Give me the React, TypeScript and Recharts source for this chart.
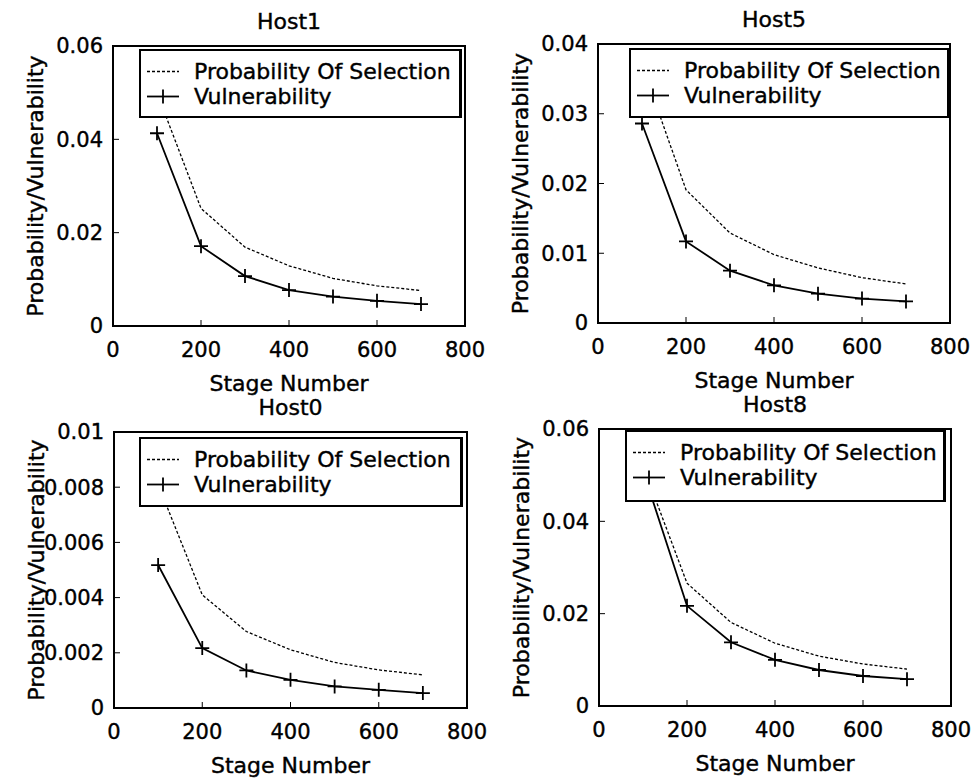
import { LineChart, Line, XAxis, YAxis, Legend, Label, ReferenceArea } from 'recharts'

// Stage numbers shared by every panel
const stages = [100, 200, 300, 400, 500, 600, 700]
const xTicks = [0, 200, 400, 600, 800]

// Values
const host1Selection = [0.05, 0.0252, 0.0169, 0.0129, 0.0102, 0.0086, 0.0076]
const host1Vulnerability = [0.0413, 0.0171, 0.0107, 0.0077, 0.0063, 0.0054, 0.0047]
const host5Selection = [0.037, 0.0191, 0.0129, 0.0098, 0.0079, 0.0065, 0.0056]
const host5Vulnerability = [0.0286, 0.0117, 0.0075, 0.0054, 0.0042, 0.0035, 0.0031]
const host0Selection = [0.0081, 0.0041, 0.00277, 0.00211, 0.00165, 0.00138, 0.0012]
const host0Vulnerability = [0.00518, 0.00217, 0.00136, 0.00102, 0.00078, 0.00066, 0.00054]
const host8Selection = [0.052, 0.0266, 0.0181, 0.0136, 0.0108, 0.0091, 0.008]
const host8Vulnerability = [0.051, 0.0217, 0.0138, 0.01, 0.0078, 0.0065, 0.0058]

const ticks06 = [0, 0.02, 0.04, 0.06]
const ticks04 = [0, 0.01, 0.02, 0.03, 0.04]
const ticks01 = [0, 0.002, 0.004, 0.006, 0.008, 0.01]

const FONT = '"DejaVu Sans", sans-serif'
const Y_W = 110
const TOP = 45
const RIGHT = 32
const X_H = 70

interface Box { x: number; y: number; w: number; h: number }

interface PanelProps {
  title: string
  box: Box
  legend: Box
  yTicks: number[]
  selection: number[]
  vulnerability: number[]
}

function fmtTick(v: number): string {
  if (v === 0) return '0'
  return String(+v.toFixed(4))
}

function PlusDot(props: any) {
  const { cx, cy, index } = props
  if (cx == null || cy == null) return null
  return (
    <path
      key={`p-${index}`}
      d={`M${cx - 7},${cy}H${cx + 7}M${cx},${cy - 7}V${cy + 7}`}
      stroke="#000"
      strokeWidth={1.8}
      fill="none"
    />
  )
}

function LegendBox({ w, h }: { w: number; h: number }) {
  const txt: any = {
    position: 'absolute',
    left: 53,
    transform: 'translateY(-50%)',
    whiteSpace: 'nowrap',
    lineHeight: 1,
    WebkitTextStroke: '0.4px #000'
  }
  return (
    <div
      style={{
        width: w,
        height: h,
        boxSizing: 'border-box',
        border: '2px solid #000',
        borderRightWidth: 3,
        background: '#fff',
        position: 'relative',
        fontFamily: FONT,
        fontSize: 22,
        color: '#000'
      }}
    >
      <svg width={50} height={h} style={{ position: 'absolute', left: 0, top: -2 }}>
        <line x1={6} x2={38} y1={22.5} y2={22.5} stroke="#000" strokeWidth={1.3} strokeDasharray="3 2" />
        <line x1={6} x2={38} y1={47.5} y2={47.5} stroke="#000" strokeWidth={1.8} />
        <line x1={22} x2={22} y1={40.5} y2={54.5} stroke="#000" strokeWidth={1.8} />
      </svg>
      <div style={{ ...txt, top: 20.5 }}>Probability Of Selection</div>
      <div style={{ ...txt, top: 45.5 }}>Vulnerability</div>
    </div>
  )
}

function Panel({ title, box, legend, yTicks, selection, vulnerability }: PanelProps) {
  const data = stages.map((s, i) => ({ stage: s, selection: selection[i], vulnerability: vulnerability[i] }))
  const yMax = yTicks[yTicks.length - 1]
  const left = box.x - Y_W
  const top = box.y - TOP
  const tickStyle = { fontSize: 21, fill: '#000', fontFamily: FONT, stroke: '#000', strokeWidth: 0.4 }

  return (
    <div style={{ position: 'absolute', left, top }}>
      <LineChart
        width={Y_W + box.w + RIGHT}
        height={TOP + box.h + X_H}
        data={data}
        margin={{ top: TOP, right: RIGHT, bottom: 0, left: 0 }}
        style={{ fontFamily: FONT }}
      >
        <XAxis
          dataKey="stage"
          type="number"
          domain={[0, 800]}
          ticks={xTicks}
          allowDataOverflow
          height={X_H}
          tickSize={-6}
          tickMargin={22}
          tick={tickStyle}
          axisLine={{ stroke: '#000', strokeWidth: 2 }}
          tickLine={{ stroke: '#000' }}
        >
          <Label
            content={({ viewBox }: any) => (
              <g fontSize={22} fontFamily={FONT} fill="#000" stroke="#000" strokeWidth={0.4}>
                <text
                  x={viewBox.x + viewBox.width / 2}
                  y={viewBox.y + 57}
                  textAnchor="middle"
                  dominantBaseline="central"
                >
                  Stage Number
                </text>
                <text
                  x={viewBox.x + viewBox.width / 2}
                  y={viewBox.y - box.h - 25}
                  textAnchor="middle"
                  dominantBaseline="central"
                >
                  {title}
                </text>
              </g>
            )}
          />
        </XAxis>
        <YAxis
          type="number"
          domain={[0, yMax]}
          ticks={yTicks}
          allowDataOverflow
          width={Y_W}
          tickSize={-6}
          tickMargin={16}
          tick={tickStyle}
          tickFormatter={fmtTick}
          axisLine={{ stroke: '#000', strokeWidth: 2 }}
          tickLine={{ stroke: '#000' }}
        >
          <Label
            content={({ viewBox }: any) => {
              const cx = viewBox.x + 32
              const cy = viewBox.y + viewBox.height / 2
              return (
                <text
                  x={cx}
                  y={cy}
                  transform={`rotate(-90, ${cx}, ${cy})`}
                  textAnchor="middle"
                  dominantBaseline="central"
                  fontSize={22}
                  fontFamily={FONT}
                  fill="#000"
                  stroke="#000"
                  strokeWidth={0.4}
                >
                  Probability/Vulnerability
                </text>
              )
            }}
          />
        </YAxis>
        {/* plot frame */}
        <ReferenceArea x1={0} x2={800} y1={0} y2={yMax} fill="none" stroke="#000" strokeWidth={2} ifOverflow="visible" />
        <Line
          dataKey="selection"
          name="Probability Of Selection"
          stroke="#000"
          strokeWidth={1.3}
          strokeDasharray="3 2"
          dot={false}
          isAnimationActive={false}
        />
        <Line
          dataKey="vulnerability"
          name="Vulnerability"
          stroke="#000"
          strokeWidth={1.8}
          dot={PlusDot}
          isAnimationActive={false}
        />
        <Legend
          layout="horizontal"
          verticalAlign="middle"
          align="center"
          wrapperStyle={{
            left: legend.x - left,
            top: legend.y - top,
            width: legend.w,
            height: legend.h,
            zIndex: 5
          }}
          content={() => <LegendBox w={legend.w} h={legend.h} />}
        />
      </LineChart>
    </div>
  )
}

export default function App() {
  return (
    <div style={{ position: 'absolute', left: 0, top: 0, width: 975, height: 782, background: '#fff', overflow: 'hidden' }}>
      <Panel
        title="Host1"
        box={{ x: 113, y: 46, w: 352, h: 280 }}
        legend={{ x: 139, y: 49, w: 323, h: 69 }}
        yTicks={ticks06}
        selection={host1Selection}
        vulnerability={host1Vulnerability}
      />
      <Panel
        title="Host5"
        box={{ x: 598, y: 44, w: 352, h: 279 }}
        legend={{ x: 629, y: 48, w: 321, h: 70 }}
        yTicks={ticks04}
        selection={host5Selection}
        vulnerability={host5Vulnerability}
      />
      <Panel
        title="Host0"
        box={{ x: 114, y: 432, w: 353, h: 276 }}
        legend={{ x: 139, y: 437, w: 324, h: 70 }}
        yTicks={ticks01}
        selection={host0Selection}
        vulnerability={host0Vulnerability}
      />
      <Panel
        title="Host8"
        box={{ x: 599, y: 429, w: 352, h: 277 }}
        legend={{ x: 625, y: 430, w: 321, h: 72 }}
        yTicks={ticks06}
        selection={host8Selection}
        vulnerability={host8Vulnerability}
      />
    </div>
  )
}
